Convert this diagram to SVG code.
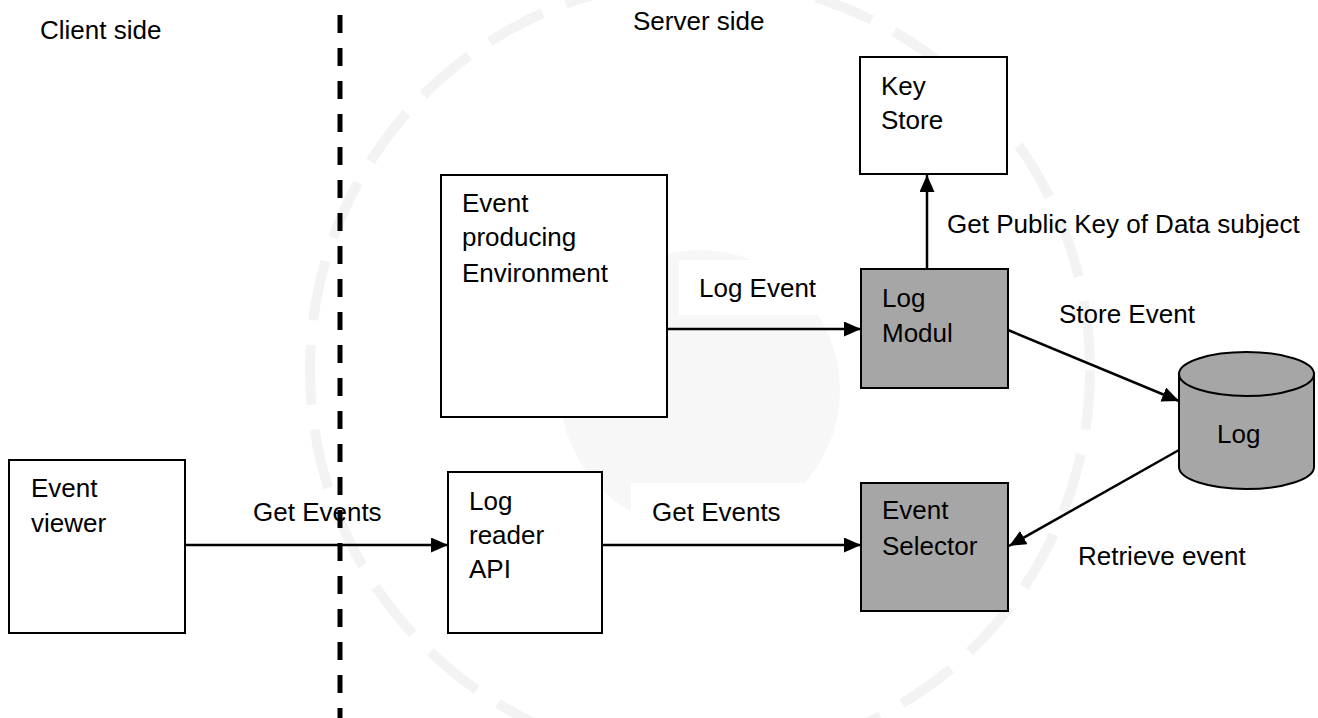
<svg xmlns="http://www.w3.org/2000/svg" width="1318" height="718" viewBox="0 0 1318 718">
<style>
text{font-family:"Liberation Sans",Arial,sans-serif;font-size:26px;fill:#000}
.box{fill:#fff;stroke:#000;stroke-width:2}
.gbox{fill:#a6a6a6;stroke:#000;stroke-width:2}
.conn{stroke:#000;stroke-width:2.5;fill:none}
.lblbg{fill:#fff;stroke:none}
</style>
<defs>
<marker id="ah" markerUnits="userSpaceOnUse" markerWidth="18" markerHeight="16" refX="17" refY="7.5" orient="auto">
<path d="M0,0 L17,7.5 L0,15 z" fill="#000"/>
</marker>
</defs>
<rect width="1318" height="718" fill="#fff"/>
<g id="watermark">
<circle cx="700" cy="390" r="140" fill="#f7f7f7"/>
<circle cx="700" cy="370" r="390" fill="none" stroke="#f3f3f3" stroke-width="10" stroke-dasharray="60 25"/>
</g>
<g id="divider">
<line x1="340" y1="15" x2="340" y2="718" stroke="#000" stroke-width="5" stroke-dasharray="18 15"/>
<text x="40" y="39">Client side</text>
<text x="633" y="30">Server side</text>
</g>
<g id="connectors">
<line class="conn" x1="927" y1="269" x2="927" y2="175" marker-end="url(#ah)"/>
<text x="947" y="233">Get Public Key of Data subject</text>
<rect class="lblbg" x="679" y="260" width="182" height="55"/>
<text x="699" y="297">Log Event</text>
<line class="conn" x1="667" y1="329" x2="861" y2="329" marker-end="url(#ah)"/>
<line class="conn" x1="1008" y1="330" x2="1179" y2="401" marker-end="url(#ah)"/>
<text x="1059" y="323">Store Event</text>
<line class="conn" x1="1179" y1="450" x2="1009" y2="546" marker-end="url(#ah)"/>
<text x="1078" y="565">Retrieve event</text>
<line class="conn" x1="185" y1="545" x2="448" y2="545" marker-end="url(#ah)"/>
<text x="253" y="521">Get Events</text>
<rect class="lblbg" x="631" y="483" width="182" height="54"/>
<text x="652" y="521">Get Events</text>
<line class="conn" x1="602" y1="545" x2="861" y2="545" marker-end="url(#ah)"/>
</g>
<g id="key-store">
<rect class="box" x="860" y="57" width="147" height="117"/>
<text x="881" y="95">Key</text>
<text x="881" y="129">Store</text>
</g>
<g id="event-producing-env">
<rect class="box" x="441" y="175" width="226" height="242"/>
<text x="462" y="212">Event</text>
<text x="462" y="246">producing</text>
<text x="462" y="282">Environment</text>
</g>
<g id="log-modul">
<rect class="gbox" x="861" y="269" width="147" height="119"/>
<text x="882" y="307">Log</text>
<text x="882" y="342">Modul</text>
</g>
<g id="log-db">
<path d="M1179,374 L1179,467 A67.5,22 0 0 0 1314,467 L1314,374 A67.5,22 0 0 0 1179,374 z" fill="#a6a6a6" stroke="#000" stroke-width="2"/>
<path d="M1179,374 A67.5,22 0 0 0 1314,374" fill="none" stroke="#000" stroke-width="2"/>
<text x="1217" y="443">Log</text>
</g>
<g id="event-selector">
<rect class="gbox" x="861" y="483" width="147" height="128"/>
<text x="882" y="519">Event</text>
<text x="882" y="555">Selector</text>
</g>
<g id="event-viewer">
<rect class="box" x="9" y="460" width="176" height="173"/>
<text x="31" y="497">Event</text>
<text x="31" y="532">viewer</text>
</g>
<g id="log-reader-api">
<rect class="box" x="448" y="472" width="154" height="161"/>
<text x="469" y="510">Log</text>
<text x="469" y="544">reader</text>
<text x="469" y="578">API</text>
</g>
</svg>
